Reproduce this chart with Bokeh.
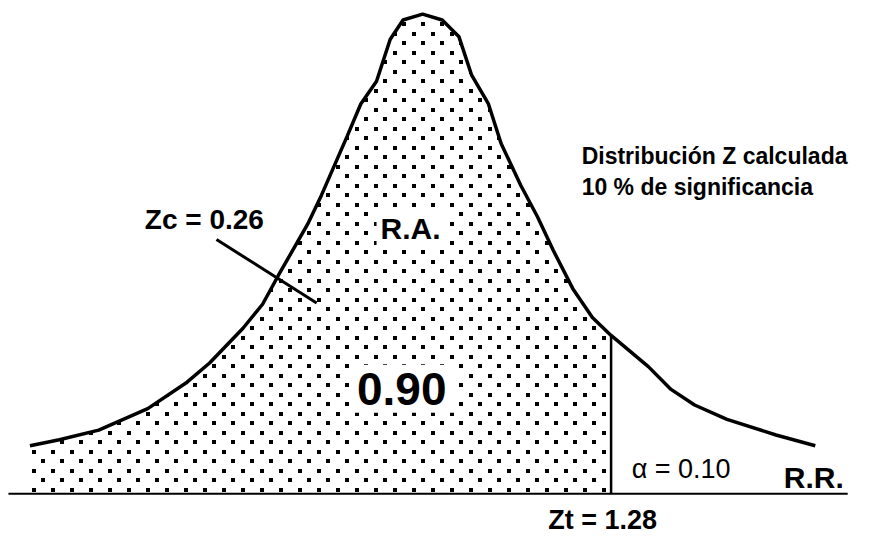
import base64
import struct
import zlib
import numpy as np
from bokeh.plotting import figure
from bokeh.models import Label, Range1d, ImageURLTexture
from bokeh.embed import file_html
from bokeh.resources import INLINE

# Curve (z value, density)
curve_z = [-2.667, -2.467, -2.2, -1.867, -1.6, -1.447, -1.22, -1.087, -0.98, -0.78,
           -0.687, -0.513, -0.42, -0.313, -0.22, -0.133, 0.0, 0.133, 0.247, 0.333,
           0.447, 0.533, 0.667, 0.78, 0.887, 1.02, 1.153, 1.28, 1.533, 1.687,
           1.847, 2.067, 2.4, 2.667]
curve_y = [0.040, 0.045, 0.053, 0.071, 0.093, 0.109, 0.138, 0.158, 0.182, 0.225,
           0.249, 0.298, 0.325, 0.344, 0.379, 0.395, 0.400, 0.395, 0.381, 0.349,
           0.325, 0.292, 0.257, 0.231, 0.203, 0.171, 0.147, 0.132, 0.106, 0.087,
           0.074, 0.062, 0.049, 0.040]

z_critical = 1.28        # Zt
z_calc = 0.26            # Zc
area_accept = 0.90
alpha = 0.10

# pointer line for the Zc label and the baseline extent
zc_pointer_x = [-1.4, -0.72]
zc_pointer_y = [0.212, 0.159]
baseline_x = [-2.813, 2.887]


def dot_tile_png(size=19, dot=4):
    """Small staggered-dot texture tile as a PNG data URL."""
    px = np.zeros((size, size, 4), dtype=np.uint8)
    px[:, :, :3] = 255
    px[:, :, 3] = 255
    a, b = size // 4, (3 * size) // 4
    px[a - 1:a - 1 + dot, a - 1:a - 1 + dot, :3] = 0
    px[b - 1:b - 1 + dot, b - 1:b - 1 + dot, :3] = 0
    raw = b"".join(b"\x00" + px[r].tobytes() for r in range(size))

    def chunk(tag, data):
        return (struct.pack(">I", len(data)) + tag + data +
                struct.pack(">I", zlib.crc32(tag + data) & 0xFFFFFFFF))
    png = (b"\x89PNG\r\n\x1a\n" +
           chunk(b"IHDR", struct.pack(">IIBBBBB", size, size, 8, 6, 0, 0, 0)) +
           chunk(b"IDAT", zlib.compress(raw)) + chunk(b"IEND", b""))
    return "data:image/png;base64," + base64.b64encode(png).decode()


p = figure(width=855, height=534, x_range=Range1d(-2.867, 2.94),
           y_range=Range1d(-0.034, 0.4113), output_backend="svg",
           toolbar_location=None, min_border=0,
           x_axis_location=None, y_axis_location=None)
p.grid.visible = False
p.outline_line_color = None
p.background_fill_color = "white"

cz = np.array(curve_z)
cy = np.array(curve_y)
y_at_zt = float(np.interp(z_critical, cz, cy))

# shaded acceptance region
mask = cz <= z_critical
shade_x = [cz[0] - 0.02] + list(cz[mask]) + [z_critical, z_critical, cz[0] - 0.02]
shade_y = [cy[0]] + list(cy[mask]) + [y_at_zt, 0, 0]
p.patch(shade_x, shade_y, fill_color="white", line_color=None,
        hatch_pattern="dots", hatch_extra={"dots": ImageURLTexture(url=dot_tile_png())},
        hatch_color="black", hatch_scale=19)

p.line(curve_z, curve_y, line_color="black", line_width=3.5)
p.segment(x0=[z_critical], y0=[0], x1=[z_critical], y1=[y_at_zt],
          line_color="black", line_width=2.5)
p.line(baseline_x, [0, 0], line_color="black", line_width=2)
p.line(zc_pointer_x, zc_pointer_y, line_color="black", line_width=3)

F = "Liberation Sans"
def lab(x, y, text, size, style="bold", bg=None, pad=0):
    kw = {}
    if bg:
        kw = dict(background_fill_color=bg, padding=pad)
    p.add_layout(Label(x=x, y=y, text=text, text_font=F, text_font_size=f"{size}px",
                       text_font_style=style, text_color="black",
                       text_baseline="alphabetic", text_align="left", **kw))

lab(-1.887, 0.229, f"Zc = {z_calc:.2f}", 28)
lab(-0.313, 0.221, "R.A.", 30, bg="white", pad=4)
lab(-0.50, 0.0875, f"{area_accept:.2f}", 46, bg="white", pad=8)
lab(1.08, 0.282, "Distribución Z calculada", 23)
lab(1.08, 0.256, "10 % de significancia", 23)
lab(1.42, 0.0203, f"α = {alpha:.2f}", 27, style="normal")
lab(2.453, 0.0138, "R.R.", 30)
lab(0.853, -0.022, f"Zt = {z_critical:.2f}", 27)

open("out.html", "w").write(file_html(p, INLINE))
